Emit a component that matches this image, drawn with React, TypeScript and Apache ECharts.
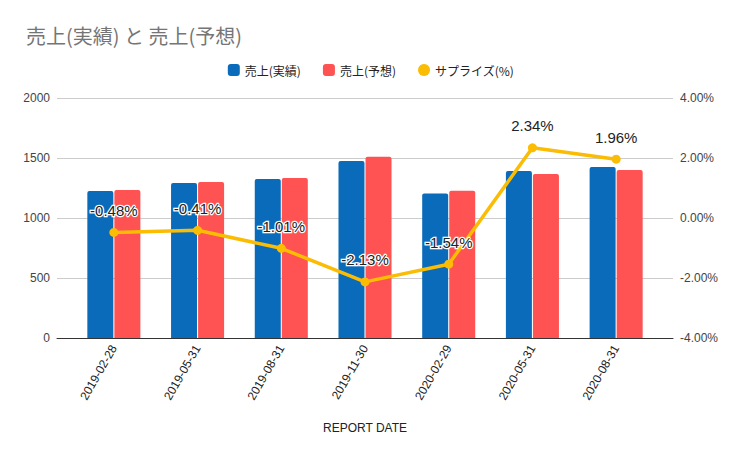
import React, { useEffect, useRef } from "react";
import * as echarts from "echarts";

const categories = ["2019-02-28", "2019-05-31", "2019-08-31", "2019-11-30", "2020-02-29", "2020-05-31", "2020-08-31"];
const actualSales = [1225, 1292, 1325, 1475, 1205, 1392, 1425];
const forecastSales = [1233, 1300, 1333, 1511, 1227, 1367, 1400];
const surprisePct = [-0.48, -0.41, -1.01, -2.13, -1.54, 2.34, 1.96];
const leftTicks = { min: 0, max: 2000, interval: 500 };
const rightTicks = { min: -4, max: 4, interval: 2 };

const FONT = "'Liberation Sans', Arial, 'Noto Sans CJK JP', sans-serif";
const CJK = "'Noto Sans CJK JP', 'Liberation Sans', sans-serif";

export default function App() {
  const ref = useRef<HTMLDivElement>(null);
  useEffect(() => {
    if (!ref.current) return;
    const chart = echarts.init(ref.current, null, { renderer: "svg" });
    chart.setOption({
      animation: false,
      textStyle: { fontFamily: FONT },
      title: {
        text: "売上(実績) と 売上(予想)",
        left: 21,
        top: 20,
        textStyle: { fontSize: 20, fontWeight: "normal", color: "#757575", fontFamily: CJK },
      },
      legend: {
        top: 59,
        left: "center",
        itemWidth: 12,
        itemHeight: 12,
        itemGap: 22,
        textStyle: { fontSize: 12, color: "#222", fontFamily: CJK },
        data: [
          { name: "売上(実績)", icon: "roundRect" },
          { name: "売上(予想)", icon: "roundRect" },
          { name: "サプライズ(%)", icon: "circle" },
        ],
      },
      grid: [
        { left: 57, right: 69, top: 98, bottom: 121 },
        { left: 72, right: 84, top: 98, bottom: 121 },
      ],
      xAxis: [
        {
          type: "value",
          gridIndex: 0,
          min: 0,
          max: 1,
          name: "REPORT DATE",
          nameLocation: "middle",
          nameGap: 84,
          nameTextStyle: { fontSize: 12, color: "#222" },
          axisLine: { show: true, lineStyle: { color: "#333" } },
          axisTick: { show: false },
          axisLabel: { show: false },
          splitLine: { show: false },
        },
        {
          type: "category",
          gridIndex: 1,
          data: categories,
          axisLine: { show: false },
          axisTick: { show: false },
          axisLabel: { rotate: 60, fontSize: 12, color: "#222", margin: 8 },
        },
      ],
      yAxis: [
        {
          type: "value",
          gridIndex: 0,
          min: leftTicks.min,
          max: leftTicks.max,
          interval: leftTicks.interval,
          axisLine: { show: false },
          axisTick: { show: false },
          axisLabel: { fontSize: 12, color: "#444", margin: 7, formatter: (v: number) => String(v) },
          splitLine: { lineStyle: { color: "#cccccc" } },
        },
        {
          type: "value",
          gridIndex: 0,
          position: "right",
          min: rightTicks.min,
          max: rightTicks.max,
          interval: rightTicks.interval,
          axisLine: { show: false },
          axisTick: { show: false },
          axisLabel: { fontSize: 12, color: "#444", margin: 7, formatter: (v: number) => v.toFixed(2) + "%" },
          splitLine: { show: false },
        },
        {
          type: "value",
          gridIndex: 1,
          min: leftTicks.min,
          max: leftTicks.max,
          interval: leftTicks.interval,
          show: false,
        },
        {
          type: "value",
          gridIndex: 1,
          position: "right",
          min: rightTicks.min,
          max: rightTicks.max,
          interval: rightTicks.interval,
          show: false,
        },
      ],
      series: [
        {
          name: "売上(実績)",
          type: "bar",
          xAxisIndex: 1,
          yAxisIndex: 2,
          data: actualSales,
          barWidth: 26,
          barGap: "4%",
          itemStyle: { color: "#0a6bba", borderRadius: [2, 2, 0, 0] },
        },
        {
          name: "売上(予想)",
          type: "bar",
          xAxisIndex: 1,
          yAxisIndex: 2,
          data: forecastSales,
          barWidth: 26,
          barGap: "4%",
          itemStyle: { color: "#ff5252", borderRadius: [2, 2, 0, 0] },
        },
        {
          name: "サプライズ(%)",
          type: "line",
          xAxisIndex: 1,
          yAxisIndex: 3,
          data: surprisePct,
          symbol: "circle",
          symbolSize: 9,
          lineStyle: { width: 3.5, color: "#fbbc04" },
          itemStyle: { color: "#fbbc04" },
          label: {
            show: true,
            position: "top",
            distance: 10,
            fontSize: 15,
            color: "#222",
            textBorderColor: "#fff",
            textBorderWidth: 2.5,
            formatter: (p: any) => p.value.toFixed(2) + "%",
          },
          z: 5,
        },
      ],
    });
    return () => chart.dispose();
  }, []);
  return <div ref={ref} style={{ width: 742, height: 459, position: "absolute", left: 0, top: 0 }} />;
}
